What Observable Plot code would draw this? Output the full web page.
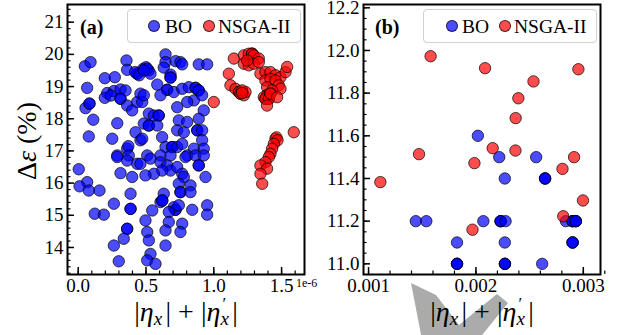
<!DOCTYPE html>
<html><head><meta charset="utf-8">
<script src="https://cdn.jsdelivr.net/npm/d3@7"></script>
<script src="https://cdn.jsdelivr.net/npm/@observablehq/plot@0.6"></script>
<style>
body{margin:0;background:#fff;}
#wrap{position:relative;width:621px;height:335px;overflow:hidden;font-family:"Liberation Serif","Times New Roman",serif;color:#000;}
.panel{position:absolute;top:0;}
.panel svg text{font-family:"Liberation Serif","Times New Roman",serif;}
.abs{position:absolute;white-space:nowrap;line-height:1;}
.legend{position:absolute;top:9px;height:34px;border:1px solid #d0d0d0;border-radius:4px;background:rgba(255,255,255,0.8);box-sizing:border-box;}
.mk{position:absolute;width:12px;height:12px;border-radius:50%;box-sizing:border-box;border:1px solid rgba(0,0,0,0.7);}
.lt{position:absolute;font-size:19.5px;line-height:1;top:7px;}
.xl{font-size:28px;}
.xl i{font-style:italic;}
.sx{display:inline-block;position:relative;width:0.42em;height:1em;vertical-align:top;}
.sx .s{position:absolute;left:0;top:0.57em;font-size:0.68em;font-style:italic;line-height:1;}
.sx .p{position:absolute;left:0.12em;top:-0.1em;font-size:0.6em;line-height:1;}
</style></head><body>
<div id="wrap">
  <div id="pa" class="panel" style="left:0"></div>
  <div id="pb" class="panel" style="left:310px"></div>
  <svg class="abs" style="left:0;top:0" width="621" height="335">
    <polygon points="411,283 436,295 459,325 497,294 508,303 470,350 424,350" fill="#ababab"/>
  </svg>
  <div class="abs" style="left:80px;top:17px;font-size:20px;font-weight:bold">(a)</div>
  <div class="abs" style="left:375px;top:17px;font-size:20px;font-weight:bold">(b)</div>
  <div class="legend" style="left:127px;width:174px">
    <span class="mk" style="left:20px;top:10px;background:rgba(0,0,255,0.7)"></span>
    <span class="lt" style="left:37px">BO</span>
    <span class="mk" style="left:75px;top:10px;background:rgba(255,0,0,0.7)"></span>
    <span class="lt" style="left:90px">NSGA-II</span>
  </div>
  <div class="legend" style="left:423px;width:174px">
    <span class="mk" style="left:22px;top:10px;background:rgba(0,0,255,0.7)"></span>
    <span class="lt" style="left:38px">BO</span>
    <span class="mk" style="left:75px;top:10px;background:rgba(255,0,0,0.7)"></span>
    <span class="lt" style="left:90px">NSGA-II</span>
  </div>
  <div class="abs" style="left:296px;top:277px;font-size:12px">1e-6</div>
  <div class="abs" style="left:27px;top:141px;font-size:28px;transform:translate(-50%,-50%) rotate(-90deg)">Δ<i>ε</i> (%)</div>
  <div class="abs xl" style="left:186px;top:312px;transform:translate(-50%,-50%)">|<i>η</i><span class="sx"><span class="s">x</span></span>| + |<i>η</i><span class="sx"><span class="s">x</span><span class="p">′</span></span>|</div>
  <div class="abs xl" style="left:482px;top:312px;transform:translate(-50%,-50%)">|<i>η</i><span class="sx"><span class="s">x</span></span>| + |<i>η</i><span class="sx"><span class="s">x</span><span class="p">′</span></span>|</div>
</div>
<script>
// Panel (a): x in units of 1e-6, y = Δε (%)
const boA = [
[0.049,19.63],[0.091,19.76],[0.356,19.81],[0.361,19.52],[0.435,19.40],[0.435,19.40],
[0.196,19.26],[0.270,19.29],[0.066,18.96],[0.214,18.80],[0.263,18.86],[0.312,18.91],[0.349,18.88],
[0.196,18.65],[0.24,18.72],[0.312,18.62],[0.312,18.62],[0.361,18.41],[0.398,18.26],[0.435,18.52],[0.459,18.78],
[0.054,18.33],[0.083,18.47],[0.083,18.47],[0.111,17.97],[0.288,17.86],[0.078,17.45],[0.251,17.38],
[0.423,17.58],[0.459,17.33],[0.361,17.07],[0.37,17.15],[0.288,16.86],[0.373,16.86],[0.472,18.52],[0.484,17.85],
[0.42,19.45],[0.45,19.35],[0.48,19.55],[0.50,19.6],[0.52,19.5],
[0.644,20.0],[0.644,19.76],[0.718,19.79],[0.754,19.76],[0.767,19.69],[0.889,19.69],[0.951,19.69],
[0.509,19.55],[0.533,19.40],[0.484,19.50],[0.631,19.59],[0.681,19.37],[0.681,19.28],[0.681,19.28],
[0.583,19.06],[0.656,18.90],[0.656,18.90],[0.705,18.83],[0.767,18.93],[0.816,18.98],[0.865,18.96],[0.865,18.96],
[0.889,18.88],[0.889,18.88],[0.607,18.73],[0.853,18.57],[0.804,18.52],[0.730,18.36],[0.914,18.73],[0.926,18.26],
[0.889,18.00],[0.484,18.73],[0.521,18.16],[0.558,18.10],[0.594,18.10],[0.594,18.10],[0.521,17.79],[0.521,17.79],
[0.583,17.79],[0.742,17.95],[0.804,17.90],[0.878,17.64],[0.878,17.64],[0.914,17.64],[0.730,17.64],[0.779,17.58],
[0.619,17.43],[0.472,17.38],[0.644,17.12],[0.693,17.12],[0.693,17.12],[0.730,17.12],[0.767,17.22],[0.853,17.07],
[0.914,17.33],[0.926,17.07],[0.804,16.86],[0.509,16.86],[0.607,16.86],[0.681,16.86],
[0.004,16.43],[0.066,16.03],[0.010,15.90],[0.078,15.77],[0.157,15.77],[0.122,15.05],[0.189,15.02],[0.263,15.36],
[0.288,16.81],[0.361,16.70],[0.312,16.31],[0.386,15.67],[0.386,15.20],[0.386,15.20],[0.361,14.58],[0.361,14.58],
[0.336,14.27],[0.263,14.06],[0.299,13.57],[0.398,16.19],[0.435,16.60],[0.459,16.60],
[0.533,16.76],[0.607,16.65],[0.656,16.55],[0.681,16.39],[0.619,16.39],[0.558,16.29],[0.496,16.24],[0.730,16.50],
[0.767,16.29],[0.779,16.19],[0.791,16.81],[0.865,16.86],[0.926,16.86],[0.889,16.55],[0.889,16.55],[0.939,16.19],
[0.742,15.98],[0.754,15.72],[0.754,15.72],[0.828,15.93],[0.828,15.72],[0.631,15.67],[0.607,15.41],[0.62,15.46],
[0.62,15.46],[0.705,15.25],[0.718,15.17],[0.718,15.17],[0.742,15.31],[0.546,15.15],[0.496,14.84],[0.668,15.10],
[0.841,15.17],[0.951,15.31],[0.951,15.02],[0.668,14.79],[0.767,14.74],[0.644,14.53],[0.754,14.48],[0.509,14.48],
[0.521,14.22],[0.644,14.06],[0.533,13.80],[0.509,13.60],[0.570,13.49]
];
const nsgaA = [
[1.148,19.87],[1.222,19.97],[1.258,20.02],[1.283,20.02],[1.283,20.02],[1.283,20.02],[1.295,19.97],[1.332,19.87],
[1.222,19.71],[1.258,19.66],[1.295,19.71],[1.332,19.76],[1.246,19.81],
[1.111,19.40],[1.344,19.40],[1.381,19.45],[1.418,19.45],[1.455,19.35],[1.492,19.29],[1.529,19.45],[1.541,19.61],
[1.381,19.19],[1.418,19.24],[1.455,19.19],[1.479,19.04],[1.492,18.93],[1.393,18.98],[1.430,18.88],
[1.393,18.73],[1.393,18.73],[1.369,18.67],[1.381,18.62],[1.381,18.62],[1.406,18.62],[1.406,18.62],[1.418,18.78],
[1.418,18.78],[1.393,18.41],[1.467,18.67],
[1.123,19.04],[1.160,18.93],[1.185,18.83],[1.185,18.83],[1.197,18.78],[1.197,18.78],[1.222,18.73],[1.234,18.83],
[1.209,18.88],[1.209,18.80],[1.0,18.52],[1.590,17.58],
[1.455,17.38],[1.462,17.42],[1.47,17.33],[1.443,17.22],[1.430,17.07],[1.418,16.91],[1.406,16.81],[1.381,16.65],
[1.344,16.55],[1.393,16.45],[1.344,16.29],[1.357,15.98]
];
// Panel (b)
const boB = [
[0.002018,11.60],[0.002217,11.50],[0.002561,11.50],[0.002269,11.40],
[0.002644,11.40],[0.002644,11.40],[0.002644,11.40],
[0.00144,11.2],[0.001538,11.2],[0.002069,11.2],[0.00223,11.2],[0.00223,11.2],[0.00223,11.2],[0.002276,11.2],
[0.002838,11.2],[0.0029,11.2],[0.0029,11.2],[0.0029,11.2],[0.00293,11.2],[0.00293,11.2],[0.00293,11.2],
[0.001824,11.1],[0.002269,11.1],[0.0029,11.1],[0.0029,11.1],[0.0029,11.1],
[0.001824,11.0],[0.001824,11.0],[0.001824,11.0],[0.00227,11.0],[0.00227,11.0],[0.00227,11.0],[0.002617,11.0]
];
const nsgaB = [
[0.00111,11.383],[0.00147,11.514],[0.001578,11.973],[0.001986,11.472],[0.002085,11.917],[0.002156,11.542],
[0.002368,11.531],[0.00237,11.683],[0.002395,11.776],[0.002536,11.855],[0.002954,11.912],[0.002806,11.445],
[0.002914,11.50],[0.002997,11.297],[0.001968,11.16],[0.002813,11.223]
];
const xTicksA = [0.0, 0.5, 1.0, 1.5];
const yTicksA = [14, 15, 16, 17, 18, 19, 20, 21];
const xTicksB = [0.001, 0.002, 0.003];
const yTicksB = [11.0, 11.2, 11.4, 11.6, 11.8, 12.0, 12.2];

const rng = (a, b, s) => d3.range(Math.round((b - a) / s) + 1).map(i => +(a + i * s).toFixed(6));

function panel(o) {
  const dotOpts = (fill) => ({x: d => d[0], y: d => d[1], r: 5.7, fill, fillOpacity: 0.7,
    stroke: "black", strokeOpacity: 0.7, strokeWidth: 1});
  return Plot.plot({
    width: o.width, height: 335,
    marginLeft: o.ml, marginRight: o.mr, marginTop: 4, marginBottom: 61,
    style: {fontFamily: "'Liberation Serif', 'Times New Roman', serif", fontSize: "19px", color: "black", background: "transparent", overflow: "visible"},
    x: {domain: o.xd},
    y: {domain: o.yd},
    marks: [
      Plot.dot(o.blue, dotOpts("#0000ff")),
      Plot.dot(o.red, dotOpts("#ff0000")),
      Plot.axisX(o.xMinor, {tickSize: -3.5, tickFormat: () => "", strokeWidth: 1.2, label: null}),
      Plot.axisX(o.xTicks, {tickSize: -7, tickPadding: 11, tickFormat: o.xf, strokeWidth: 1.5, label: null}),
      Plot.axisY(o.yMinor, {tickSize: -3.5, tickFormat: () => "", strokeWidth: 1.2, label: null}),
      Plot.axisY(o.yTicks, {tickSize: -7, tickPadding: 11, tickFormat: o.yf, strokeWidth: 1.5, label: null}),
      Plot.frame({stroke: "black", strokeWidth: 2})
    ]
  });
}

document.getElementById("pa").append(panel({
  width: 310, ml: 67, mr: 6, blue: boA, red: nsgaA,
  xd: [-0.079, 1.669], yd: [13.16, 21.55],
  xTicks: xTicksA, xMinor: rng(0, 1.6, 0.1), yTicks: yTicksA, yMinor: rng(13.2, 21.4, 0.2),
  xf: d3.format(".1f"), yf: d3.format("d")
}));
document.getElementById("pb").append(panel({
  width: 311, ml: 53, mr: 21, blue: boB, red: nsgaB,
  xd: [0.000953, 0.00316], yd: [10.95, 12.2155],
  xTicks: xTicksB, xMinor: rng(0.001, 0.0032, 0.0002), yTicks: yTicksB, yMinor: rng(11.0, 12.2, 0.05),
  xf: d3.format(".3f"), yf: d3.format(".1f")
}));
</script>
</body></html>
